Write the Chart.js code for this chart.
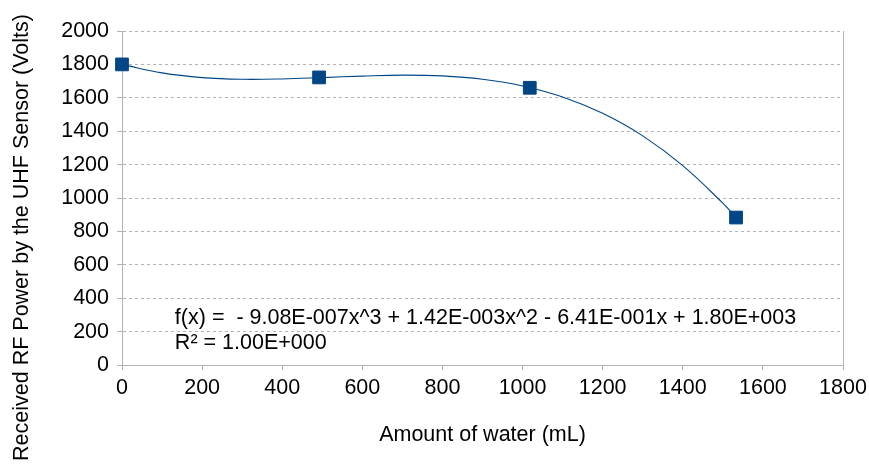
<!DOCTYPE html>
<html>
<head>
<meta charset="utf-8">
<script src="https://cdn.jsdelivr.net/npm/chart.js@4/dist/chart.umd.min.js"></script>
<style>
  html, body { margin: 0; padding: 0; background: #fff; }
  #wrap { width: 869px; height: 465px; }
</style>
</head>
<body>
<div id="wrap"><canvas id="chart" width="869" height="465"></canvas></div>
<script>
// measured points
const waterMl = [0, 492, 1018, 1533];
const rfVolts = [1800, 1722, 1660, 883];

// trend line
const trendX = [0, 100, 200, 300, 400, 500, 600, 700, 800, 900, 1000, 1100, 1200, 1300, 1400, 1500, 1533];
const trendY = [1800, 1749, 1721, 1711, 1713, 1721, 1730, 1736, 1731, 1711, 1671, 1605, 1507, 1372, 1194, 969, 883];

const xTicks = [0, 200, 400, 600, 800, 1000, 1200, 1400, 1600, 1800];
const yTicks = [0, 200, 400, 600, 800, 1000, 1200, 1400, 1600, 1800, 2000];

const yTitle = "Received RF Power by the UHF Sensor (Volts)";
const equationLines = [
  "f(x) =  - 9.08E-007x^3 + 1.42E-003x^2 - 6.41E-001x + 1.80E+003",
  "R² = 1.00E+000",
];

const FONT = "'Liberation Sans', Arial, sans-serif";
const FSIZE = 21.5;
const BLUE = "#004586";
const GRID = "#b3b3b3";

const pts = (xs, ys) => xs.map((x, i) => ({ x: x, y: ys[i] }));

const extras = {
  id: "extras",
  afterDraw(chart) {
    const { ctx, chartArea, scales } = chart;
    ctx.save();
    // right frame line
    ctx.strokeStyle = GRID;
    ctx.lineWidth = 1;
    ctx.beginPath();
    ctx.moveTo(Math.round(chartArea.right) + 0.5, chartArea.top);
    ctx.lineTo(Math.round(chartArea.right) + 0.5, chartArea.bottom);
    ctx.stroke();
    ctx.fillStyle = "#000";
    ctx.font = FSIZE + "px " + FONT;
    // equation text
    ctx.textBaseline = "middle";
    const x0 = scales.x.getPixelForValue(132);
    ctx.fillText(equationLines[0], x0, scales.y.getPixelForValue(278));
    ctx.fillText(equationLines[1], x0, scales.y.getPixelForValue(130));
    // y axis title, centred on the canvas height like the original
    ctx.translate(22, chart.height / 2 + 5);
    ctx.rotate(-Math.PI / 2);
    ctx.textAlign = "center";
    ctx.fillText(yTitle, 0, 0);
    ctx.restore();
  },
};

new Chart(document.getElementById("chart"), {
  type: "scatter",
  data: {
    datasets: [
      {
        label: "trend",
        data: pts(trendX, trendY),
        showLine: true,
        borderColor: BLUE,
        borderWidth: 1.1,
        pointRadius: 0,
        tension: 0.4,
        order: 2,
      },
      {
        label: "Received RF Power",
        data: pts(waterMl, rfVolts),
        pointStyle: "rect",
        pointRadius: 9,
        backgroundColor: BLUE,
        borderColor: BLUE,
        borderWidth: 1,
        clip: false,
        order: 1,
      },
    ],
  },
  options: {
    responsive: false,
    animation: false,
    layout: { padding: { top: 31, right: 26, left: 0, bottom: 0 } },
    plugins: {
      legend: { display: false },
      tooltip: { enabled: false },
    },
    scales: {
      x: {
        type: "linear",
        min: 0,
        max: 1800,
        afterBuildTicks: (axis) => { axis.ticks = xTicks.map((v) => ({ value: v })); },
        afterFit: (axis) => {
          axis.height = 100;
          axis.paddingLeft = 0;
          axis.paddingRight = 0;
        },
        grid: { display: true, drawOnChartArea: false, drawTicks: true, tickLength: 5, tickColor: GRID },
        border: { display: true, color: GRID, width: 1 },
        ticks: {
          color: "#000",
          font: { family: FONT, size: FSIZE },
          padding: 5,
          maxRotation: 0,
          callback: (v) => String(v),
        },
        title: {
          display: true,
          text: "Amount of water (mL)",
          color: "#000",
          font: { family: FONT, size: FSIZE },
          padding: { top: 0, bottom: 17 },
        },
      },
      y: {
        min: 0,
        max: 2000,
        afterBuildTicks: (axis) => { axis.ticks = yTicks.map((v) => ({ value: v })); },
        afterFit: (axis) => {
          axis.width = 122;
          axis.paddingTop = 0;
          axis.paddingBottom = 0;
        },
        grid: { color: GRID, tickColor: GRID, tickLength: 5, drawTicks: true },
        border: { display: true, color: GRID, width: 1, dash: [3, 3] },
        ticks: {
          color: "#000",
          font: { family: FONT, size: FSIZE },
          padding: 8,
          callback: (v) => String(v),
        },
      },
    },
  },
  plugins: [extras],
});
</script>
</body>
</html>
